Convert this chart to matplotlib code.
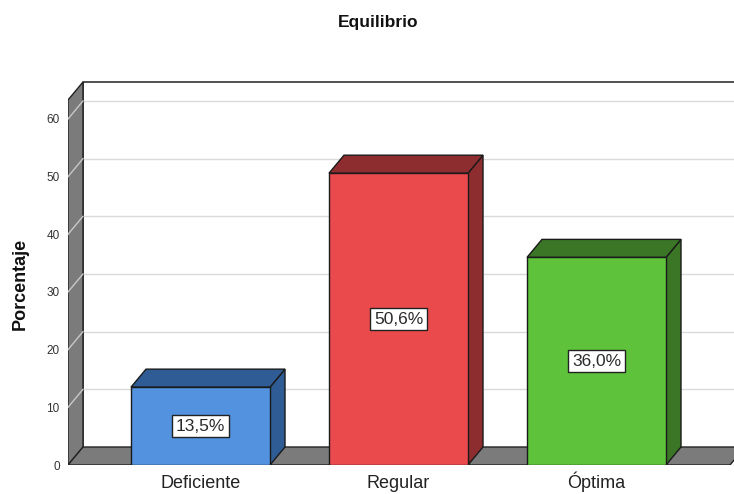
import numpy as np
import matplotlib.pyplot as plt
from matplotlib.patches import Polygon, Rectangle

plt.rcParams['font.family'] = ['Liberation Sans', 'DejaVu Sans']

categories = ['Deficiente', 'Regular', 'Óptima']
values = [13.5, 50.6, 36.0]
front_colors = ['#5292DE', '#EB4A4D', '#5EC33A']
dark_colors = ['#2F5C94', '#8E2D2F', '#3A7626']
yticks = [0, 10, 20, 30, 40, 50, 60]

# geometry (data units)
W, H = 734, 494
px_y = 5.767          # pixels per percent
px_x = 198.0          # pixels per category
x0_px, y0_px = 200.5, 465
dx = 15 / px_x        # depth offset
dy = 18 / px_y
bar_w = 139 / px_x
xl = (68 - x0_px) / px_x
xr = (734 - x0_px) / px_x
floor_r = (730 - x0_px) / px_x
wall_top = (465 - 100) / px_y
ytop = (465 - 78) / px_y

fig = plt.figure(figsize=(W / 100, H / 100), dpi=100)
ax = fig.add_axes([68 / W, (H - y0_px) / H, (734 - 68) / W, (y0_px - 78) / H])
ax.set_xlim(xl, xr)
ax.set_ylim(0, ytop)
for s in ax.spines.values():
    s.set_visible(False)

# back wall grid lines
for v in yticks[1:]:
    ax.plot([xl + dx, xr], [v + dy, v + dy], color='#DADADA', lw=1, zorder=1)

# back wall border
ax.plot([xl + dx, xl + dx, xr], [dy, wall_top + dy, wall_top + dy], color='#333333', lw=1.2, zorder=1)

# left wall
ax.add_patch(Polygon([(xl, 0), (xl, wall_top), (xl + dx, wall_top + dy), (xl + dx, dy)],
                     closed=True, facecolor='#7B7B7B', edgecolor='#222222', lw=1, zorder=2))
# floor
ax.add_patch(Polygon([(xl, 0), (floor_r, 0), (floor_r + dx, dy), (xl + dx, dy)],
                     closed=True, facecolor='#7B7B7B', edgecolor='#222222', lw=1, zorder=2))
for v in yticks[1:]:
    ax.plot([xl, xl + dx], [v, v + dy], color='#C8C8C8', lw=1, zorder=3)

# 3D bars
for i, (v, fc, dc) in enumerate(zip(values, front_colors, dark_colors)):
    l, r = i - bar_w / 2, i + bar_w / 2
    ax.add_patch(Polygon([(r, 0), (r + dx, dy), (r + dx, v + dy), (r, v)],
                         closed=True, facecolor=dc, edgecolor='#1A1A1A', lw=1, zorder=4))
    ax.add_patch(Polygon([(l, v), (r, v), (r + dx, v + dy), (l + dx, v + dy)],
                         closed=True, facecolor=dc, edgecolor='#1A1A1A', lw=1, zorder=4))
    ax.add_patch(Rectangle((l, 0), bar_w, v, facecolor=fc, edgecolor='#1A1A1A', lw=1, zorder=5))
    ax.text(i, v / 2, f"{v:.1f}%".replace('.', ','), ha='center', va='center', fontsize=12.5,
            color='#2A2A2A', zorder=6,
            bbox=dict(boxstyle='square,pad=0.2', facecolor='white', edgecolor='#222222', lw=1))

ax.set_yticks(yticks)
ax.set_yticklabels([str(t) for t in yticks], fontsize=8.5, color='#333333')
ax.set_xticks([])
ax.tick_params(axis='both', length=0)
ax.tick_params(axis='y', pad=6)

# category labels sharing one baseline
label_y = (y0_px - 488) / px_y
for i, c in enumerate(categories):
    ax.text(i, label_y, c, ha='center', va='baseline', fontsize=13, color='#222222', clip_on=False)

fig.text(20 / W, 1 - 284 / H, 'Porcentaje', rotation=90, ha='center', va='center',
         fontsize=13, fontweight='bold', color='#111111')
fig.text(378 / W, 1 - 22 / H, 'Equilibrio', ha='center', va='center',
         fontsize=12.5, fontweight='bold', color='#111111')

fig.savefig('out.png', dpi=100)
